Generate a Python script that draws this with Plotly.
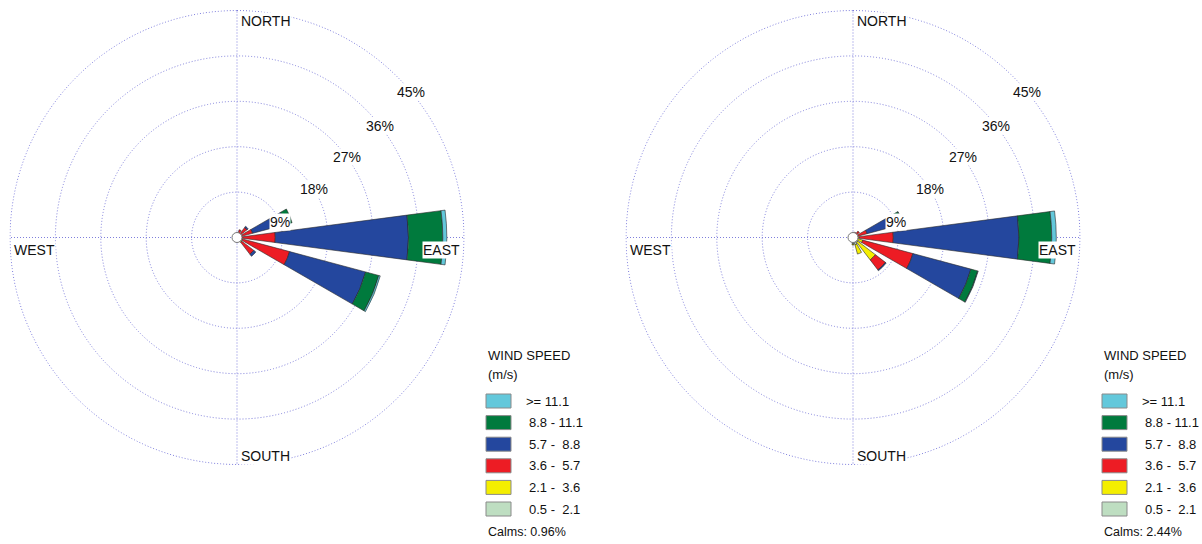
import math
import plotly.graph_objects as go

# ---------------- data ----------------
directions = [0, 22.5, 45, 67.5, 90, 112.5, 135, 157.5,
              180, 202.5, 225, 247.5, 270, 292.5, 315, 337.5]
bin_labels = ["0.5 -\u00a0\u00a02.1", "2.1 -\u00a0\u00a03.6", "3.6 -\u00a0\u00a05.7",
              "5.7 -\u00a0\u00a08.8", "8.8 - 11.1", ">= 11.1"]
bin_colors = ["#BEDEC1", "#F4EE00", "#ED1C24", "#24479E", "#007A3D", "#63C8DB"]

left_05_21 = [0, 0.1, 0.1, 0.2, 0.2, 0.2, 0.2, 0.1, 0, 0, 0, 0, 0, 0, 0, 0]
left_21_36 = [0, 0.3, 0.4, 0.5, 0.8, 0.9, 1.0, 0.3, 0, 0, 0, 0, 0, 0, 0, 0]
left_36_57 = [0, 1.2, 2.0, 2.5, 6.6, 9.7, 3.0, 0, 0, 0, 0, 0, 0, 0, 0, 0]
left_57_88 = [0, 0, 0.3, 6.8, 26.4, 15.6, 0.5, 0, 0, 0, 0, 0, 0, 0, 0, 0]
left_88_111 = [0, 0, 0, 1.3, 6.8, 2.7, 0, 0, 0, 0, 0, 0, 0, 0, 0, 0]
left_111 = [0, 0, 0, 0, 0.8, 0.3, 0, 0, 0, 0, 0, 0, 0, 0, 0, 0]
left_calms = "0.96%"

right_05_21 = [0, 0.1, 0.1, 0.2, 0.3, 0.6, 1.2, 1.5, 1.3, 0.3, 0, 0, 0, 0, 0, 0]
right_21_36 = [0, 0.2, 0.3, 0.6, 0.9, 1.4, 4.4, 1.9, 0.2, 0, 0, 0, 0, 0, 0, 0]
right_36_57 = [0, 0.8, 1.2, 2.1, 6.8, 10.3, 2.5, 0, 0, 0, 0, 0, 0, 0, 0, 0]
right_57_88 = [0, 0, 0, 6.1, 24.9, 11.9, 0.2, 0, 0, 0, 0, 0, 0, 0, 0, 0]
right_88_111 = [0, 0, 0, 1.2, 6.5, 1.4, 0, 0, 0, 0, 0, 0, 0, 0, 0, 0]
right_111 = [0, 0, 0, 0.1, 0.9, 0.1, 0, 0, 0, 0, 0, 0, 0, 0, 0, 0]
right_calms = "2.44%"

ring_values = [9, 18, 27, 36, 45]
ring_labels = ["9%", "18%", "27%", "36%", "45%"]
compass_labels = ["NORTH", "EAST", "SOUTH", "WEST"]

# ---------------- layout constants ----------------
W, H = 1202, 544
R45 = 227                 # pixel radius of the 45 % ring
RMAX = 45.15              # radial axis range max (slightly beyond outer ring)
RD = R45 * RMAX / 45      # pixel radius of the polar domain
centers = [(237, 237.5), (853, 237.5)]
label_angles = [70, 58, 54, 52, 50]   # compass angle where ring labels sit
FONT = "Liberation Sans, Arial, sans-serif"
GRID = "#7F7FDC"
GDASH = "1px,2px"

fig = go.Figure()

charts = [
    ([left_05_21, left_21_36, left_36_57, left_57_88, left_88_111, left_111], left_calms),
    ([right_05_21, right_21_36, right_36_57, right_57_88, right_88_111, right_111], right_calms),
]

annotations = []
shapes = []
outer_theta = list(range(0, 361, 2))


def to_paper_xy(px, py):
    return px / W, 1 - py / H


for k, (bins, calms) in enumerate(charts):
    pname = "polar" if k == 0 else "polar2"
    # outer dotted ring (45 %)
    fig.add_trace(go.Scatterpolar(
        r=[ring_values[-1]] * len(outer_theta), theta=outer_theta, mode="lines",
        line=dict(color=GRID, width=1, dash=GDASH), subplot=pname,
        showlegend=False, hoverinfo="skip"))
    for vals, col, lab in zip(bins, bin_colors, bin_labels):
        fig.add_trace(go.Barpolar(
            r=vals, theta=directions, width=15, name=lab,
            marker=dict(color=col, line=dict(color="#2a2a2a", width=0.6)),
            subplot=pname, showlegend=False, hoverinfo="skip"))
    # calm circle
    fig.add_trace(go.Scatterpolar(
        r=[0], theta=[0], mode="markers", subplot=pname, showlegend=False,
        marker=dict(size=10, color="white", line=dict(color="#777777", width=1)),
        hoverinfo="skip"))

    cx, cy = centers[k]
    x0, x1 = (cx - RD) / W, (cx + RD) / W
    y0, y1 = 1 - (cy + RD) / H, 1 - (cy - RD) / H
    fig.update_layout(**{pname: dict(
        domain=dict(x=[x0, x1], y=[y0, y1]),
        bgcolor="white",
        barmode="stack",
        radialaxis=dict(range=[0, RMAX], tickvals=ring_values, showticklabels=False,
                        ticks="", showline=False, gridcolor=GRID, griddash=GDASH,
                        gridwidth=1),
        angularaxis=dict(rotation=90, direction="clockwise", tickvals=[0, 90, 180, 270],
                         showticklabels=False, ticks="", showline=False,
                         gridcolor=GRID, griddash=GDASH, gridwidth=1),
    )})

    # ring labels
    for rv, rl, ang in zip(ring_values, ring_labels, label_angles):
        a = math.radians(ang)
        px = cx + R45 * rv / 45 * math.sin(a)
        py = cy - R45 * rv / 45 * math.cos(a)
        xp, yp = to_paper_xy(px, py)
        annotations.append(dict(x=xp, y=yp, xref="paper", yref="paper", text=rl,
                                showarrow=False, xanchor="center", yanchor="middle",
                                bgcolor="white", borderpad=0,
                                font=dict(family=FONT, size=14, color="#111")))
    # compass labels
    comp_pos = [
        (cx + 3, cy - R45 + 10, "left"),
        (cx + R45 - 3, cy + 12, "right"),
        (cx + 3, cy + R45 - 9, "left"),
        (cx - R45 + 3, cy + 12, "left"),
    ]
    for name, (px, py, anc) in zip(compass_labels, comp_pos):
        xp, yp = to_paper_xy(px, py)
        annotations.append(dict(x=xp, y=yp, xref="paper", yref="paper", text=name,
                                showarrow=False, xanchor=anc, yanchor="middle",
                                bgcolor="white", borderpad=0,
                                font=dict(family=FONT, size=14, color="#111")))

    # custom legend
    lx = cx + 249
    for txt, ty in (("WIND SPEED", 355), ("(m/s)", 374)):
        xp, yp = to_paper_xy(lx, ty)
        annotations.append(dict(x=xp, y=yp, xref="paper", yref="paper", text=txt,
                                showarrow=False, xanchor="left", yanchor="middle",
                                font=dict(family=FONT, size=13, color="#111")))
    for i, (col, lab) in enumerate(zip(bin_colors[::-1], bin_labels[::-1])):
        top = 394 + i * 21.6
        sx0, sy0 = to_paper_xy(lx, top)
        sx1, sy1 = to_paper_xy(lx + 25, top + 14)
        shapes.append(dict(type="rect", xref="paper", yref="paper",
                           x0=sx0, x1=sx1, y0=sy1, y1=sy0, fillcolor=col,
                           line=dict(color="#8a8a8a", width=1)))
        tx, ty = to_paper_xy(lx + 38 + (0 if lab.startswith(">") else 3), top + 7)
        annotations.append(dict(x=tx, y=ty, xref="paper", yref="paper", text=lab,
                                showarrow=False, xanchor="left", yanchor="middle",
                                font=dict(family=FONT, size=13, color="#111")))
    xp, yp = to_paper_xy(lx, 532)
    annotations.append(dict(x=xp, y=yp, xref="paper", yref="paper",
                            text="Calms: " + calms, showarrow=False,
                            xanchor="left", yanchor="middle",
                            font=dict(family=FONT, size=12.5, color="#111")))

fig.update_layout(width=W, height=H, margin=dict(l=0, r=0, t=0, b=0),
                  paper_bgcolor="white", plot_bgcolor="white",
                  annotations=annotations, shapes=shapes, showlegend=False)

fig.write_html("out.html")
